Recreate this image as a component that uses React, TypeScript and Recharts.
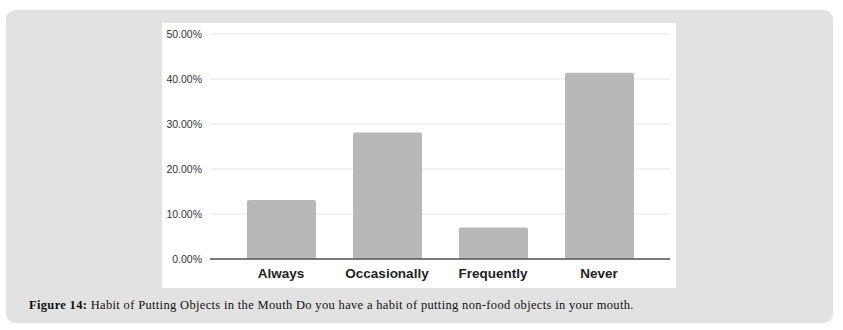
import React from "react";
import { BarChart, Bar, XAxis, YAxis, CartesianGrid } from "recharts";

const categories = ["Always", "Occasionally", "Frequently", "Never"];
const percentages = [13.1, 28.1, 7.0, 41.4];
const yTicks = [0, 10, 20, 30, 40, 50];
const captionLabel = "Figure 14:";
const captionText =
  " Habit of Putting Objects in the Mouth Do you have a habit of putting non-food objects in your mouth.";

const data = categories.map((c, i) => ({ name: c, value: percentages[i] }));

export default function App() {
  return (
    <div
      style={{
        position: "absolute",
        left: 0,
        top: 0,
        width: 843,
        height: 330,
        background: "#ffffff",
        overflow: "hidden",
      }}
    >
      <div
        style={{
          position: "absolute",
          left: 6,
          top: 10,
          width: 827,
          height: 313,
          borderRadius: 9,
          background: "#e2e2e2",
        }}
      />
      <div
        style={{
          position: "absolute",
          left: 162,
          top: 23,
          width: 514,
          height: 265,
          background: "#ffffff",
        }}
      >
        <BarChart
          width={514}
          height={265}
          data={data}
          margin={{ top: 11, right: 6, bottom: 0, left: 0 }}
        >
          <CartesianGrid vertical={false} stroke="#e6e6e6" strokeWidth={1.2} />
          <XAxis
            dataKey="name"
            height={29}
            padding={{ left: 18, right: 18 }}
            tickLine={false}
            axisLine={{ stroke: "#555555", strokeWidth: 1.3 }}
            tick={{ fill: "#222222", fontSize: 13.5, fontWeight: 700, fontFamily: "Liberation Sans, Arial, sans-serif", dy: 1 }}
            interval={0}
          />
          <YAxis
            width={48}
            domain={[0, 50]}
            ticks={yTicks}
            tickLine={false}
            axisLine={false}
            tickFormatter={(v: number) => `${v.toFixed(2)}%`}
            tick={{ fill: "#333333", fontSize: 10.5, fontFamily: "Liberation Sans, Arial, sans-serif" }}
          />
          <Bar dataKey="value" fill="#b8b8b8" barSize={69} radius={[2, 2, 0, 0]} isAnimationActive={false} />
        </BarChart>
      </div>
      <div
        style={{
          position: "absolute",
          left: 29,
          top: 297,
          fontFamily: "Liberation Serif, serif",
          fontSize: 12.5,
          letterSpacing: 0.33,
          color: "#111111",
          whiteSpace: "nowrap",
          lineHeight: "16px",
        }}
      >
        <b>{captionLabel}</b>
        {captionText}
      </div>
    </div>
  );
}
